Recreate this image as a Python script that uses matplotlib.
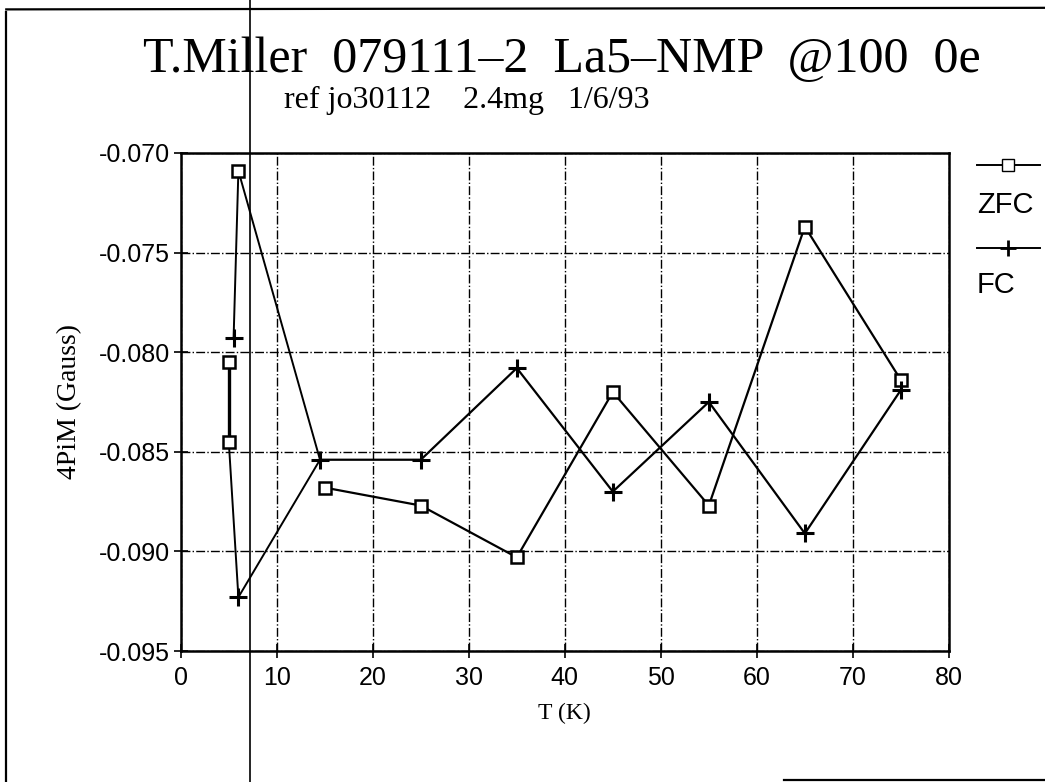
import matplotlib
matplotlib.use('Agg')
import matplotlib.pyplot as plt
from matplotlib.lines import Line2D

# ZFC (squares) and FC (plus) data
zfc_T = [5, 5, 6, 15, 25, 35, 45, 55, 65, 75]
zfc_M = [-0.0805, -0.0845, -0.0709, -0.0868, -0.0877, -0.0903, -0.0820, -0.0877, -0.0737, -0.0814]
fc_T = [5.5, 6, 14.5, 25, 35, 45, 55, 65, 75]
fc_M = [-0.0793, -0.0923, -0.0854, -0.0854, -0.0808, -0.0870, -0.0825, -0.0891, -0.0819]

xticks = [0, 10, 20, 30, 40, 50, 60, 70, 80]
yticks = [-0.095, -0.090, -0.085, -0.080, -0.075, -0.070]

fig = plt.figure(figsize=(10.45, 7.82), dpi=100)
ax = fig.add_axes([0.173, 0.1675, 0.735, 0.637])

lc = 'black'
# main curves from 15 K upward
ax.plot(zfc_T[3:], zfc_M[3:], color=lc, lw=1.6)
ax.plot(fc_T[2:], fc_M[2:], color=lc, lw=1.6)
# low temperature part, drawn in the odd order of the original plot
ax.plot([fc_T[0], zfc_T[2], fc_T[2]], [fc_M[0], zfc_M[2], fc_M[2]], color=lc, lw=1.4)
ax.plot([zfc_T[0], zfc_T[1]], [zfc_M[0], zfc_M[1]], color=lc, lw=2.4)
ax.plot([zfc_T[1], fc_T[1], fc_T[2]], [zfc_M[1], fc_M[1], fc_M[2]], color=lc, lw=1.4)

ax.plot(zfc_T, zfc_M, ls='none', marker='s', ms=9, mfc='white', mec=lc, mew=1.8)
ax.plot(fc_T, fc_M, ls='none', marker='+', ms=13, mec=lc, mew=2.2)

ax.set_xlim(0, 80)
ax.set_ylim(-0.095, -0.070)
ax.set_xticks(xticks)
ax.set_yticks(yticks)
ax.set_xticklabels([str(t) for t in xticks], family='Liberation Sans', fontsize=18)
ax.set_yticklabels(['%.3f' % v for v in yticks], family='Liberation Sans', fontsize=18)
ax.tick_params(axis='x', direction='inout', length=10, width=1.2, pad=6)
ax.tick_params(axis='y', direction='inout', length=10, width=1.2, pad=3)
ax.grid(True, color='black', ls='-.', lw=1.0)
for s in ax.spines.values():
    s.set_linewidth(1.8)

ax.set_xlabel('T (K)', family='Liberation Serif', fontsize=17, labelpad=9)
ax.set_ylabel('4PiM (Gauss)', family='Liberation Serif', fontsize=20, labelpad=12)

fig.text(0.137, 0.923, 'T.Miller  079111\u20132  La5\u2013NMP  @100  0e',
         family='Liberation Serif', fontsize=36, ha='left', va='center')
fig.text(0.272, 0.872, 'ref jo30112    2.4mg   1/6/93',
         family='Liberation Serif', fontsize=23, ha='left', va='center')

# legend drawn beside the frame like the original
fig.add_artist(Line2D([0.935, 0.965, 0.995], [0.789, 0.789, 0.789], color=lc, lw=1.4,
                      marker='s', markevery=[1], ms=8, mfc='white', mec=lc,
                      transform=fig.transFigure))
fig.text(0.935, 0.738, 'ZFC', family='Liberation Sans', fontsize=21, va='center')
fig.add_artist(Line2D([0.935, 0.965, 0.995], [0.683, 0.683, 0.683], color=lc, lw=1.4,
                      marker='+', markevery=[1], ms=11, mew=2, mec=lc,
                      transform=fig.transFigure))
fig.text(0.935, 0.636, 'FC', family='Liberation Sans', fontsize=21, va='center')

# scan artefacts: page frame and the long vertical line
fig.add_artist(Line2D([0.239, 0.239], [0.0, 1.0], color=lc, lw=1.2, transform=fig.transFigure))
fig.add_artist(Line2D([0.006, 0.006], [0.0, 0.985], color=lc, lw=1.6, transform=fig.transFigure))
fig.add_artist(Line2D([0.006, 1.0], [0.988, 0.990], color=lc, lw=1.6, transform=fig.transFigure))
fig.add_artist(Line2D([0.75, 1.0], [0.003, 0.003], color=lc, lw=1.6, transform=fig.transFigure))

fig.savefig('out.png', dpi=100)
